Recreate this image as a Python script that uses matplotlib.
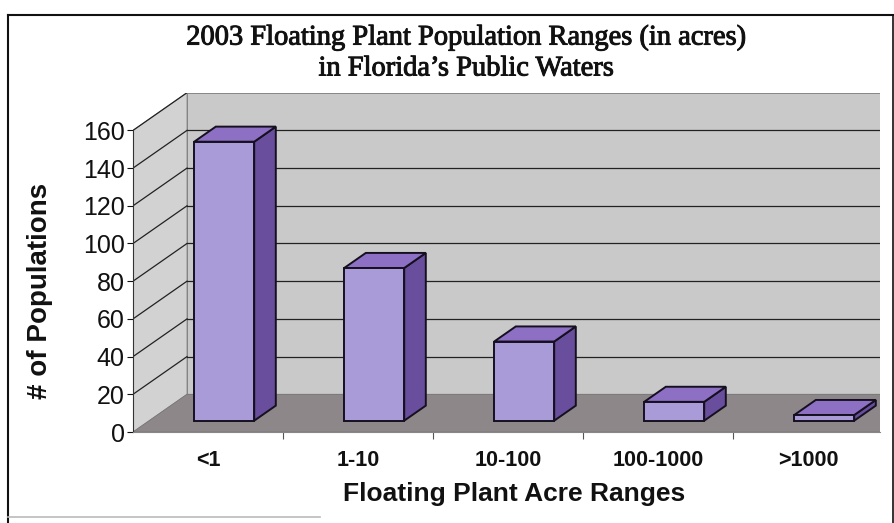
import matplotlib.pyplot as plt
import matplotlib.patheffects as pe
from matplotlib.patches import Polygon
from matplotlib.lines import Line2D

plt.rcParams["font.family"] = ["Liberation Sans", "DejaVu Sans"]

# acre ranges and number of populations in each
categories = ["<1", "1-10", "10-100", "100-1000", ">1000"]
populations = [148, 81, 42, 10, 3]
y_ticks = [0, 20, 40, 60, 80, 100, 120, 140, 160]

# oblique depth offset (category units, value units) and bar layout
DX, DY = 0.36, 20.0
BAR_W = 0.4
D0, D1 = 0.3, 0.7


def proj(x, y, d):
    return (x + DX * d, y + DY * d)


fig = plt.figure(figsize=(8.95, 5.23), dpi=100)
ax = fig.add_axes([133 / 895, 91 / 523, 747 / 895, 339.3 / 523])
ax.set_xlim(0, 4.98)
ax.set_ylim(0, 180)

ymax = y_ticks[-1]
nc = len(categories)

# walls and floor
side = Polygon([proj(0, 0, 0), proj(0, ymax, 0), proj(0, ymax, 1), proj(0, 0, 1)],
               closed=True, facecolor="#d2d2d2", edgecolor="#888888", lw=0.6, zorder=1)
back = Polygon([proj(0, 0, 1), proj(0, ymax, 1), proj(nc, ymax, 1), proj(nc, 0, 1)],
               closed=True, facecolor="#c9c9c9", edgecolor="#777777", lw=0.6, zorder=1)
floor = Polygon([proj(0, 0, 0), proj(nc, 0, 0), proj(nc, 0, 1), proj(0, 0, 1)],
                closed=True, facecolor="#8d8789", edgecolor="#777777", lw=0.6, zorder=1)
for p in (side, back, floor):
    ax.add_patch(p)

# gridlines on the back wall and the side wall
for v in y_ticks[1:-1]:
    x0, y0 = proj(0, v, 1)
    x1, y1 = proj(nc, v, 1)
    ax.plot([x0, x1], [y0, y1], color="#222222", lw=0.9, zorder=2)
for v in y_ticks[1:]:
    xa, ya = proj(0, v, 0)
    xb, yb = proj(0, v, 1)
    ax.plot([xa, xb], [ya, yb], color="#222222", lw=0.9, zorder=2)

# 3D-looking columns
for i, v in enumerate(populations):
    xl = i + 0.5 - BAR_W / 2
    xr = i + 0.5 + BAR_W / 2
    front = [proj(xl, 0, D0), proj(xl, v, D0), proj(xr, v, D0), proj(xr, 0, D0)]
    top = [proj(xl, v, D0), proj(xr, v, D0), proj(xr, v, D1), proj(xl, v, D1)]
    right = [proj(xr, 0, D0), proj(xr, v, D0), proj(xr, v, D1), proj(xr, 0, D1)]
    ax.add_patch(Polygon(right, closed=True, facecolor="#6a4e9e",
                         edgecolor="#151020", lw=1.4, zorder=3))
    ax.add_patch(Polygon(top, closed=True, facecolor="#8d70c4",
                         edgecolor="#151020", lw=1.4, zorder=3))
    ax.add_patch(Polygon(front, closed=True, facecolor="#a99ad8",
                         edgecolor="#151020", lw=1.4, zorder=4))

# axes lines and ticks
for s in ("top", "right"):
    ax.spines[s].set_visible(False)
ax.spines["left"].set_bounds(0, ymax)
ax.spines["left"].set_color("#333333")
ax.spines["bottom"].set_color("#888888")
ax.set_yticks(y_ticks)
ax.tick_params(axis="y", direction="out", length=4, width=0.8, pad=2, labelsize=18,
               colors="#111111")
ax.set_xticks([i + 0.5 for i in range(nc)])
ax.set_xticklabels(categories, fontsize=15.5, fontweight="bold")
ax.set_xticks(range(1, nc), minor=True)
ax.tick_params(axis="x", which="major", length=0, pad=13, colors="#111111")
ax.tick_params(axis="x", which="minor", direction="out", length=5, width=0.8,
               color="#555555")

title_font = dict(family="Liberation Serif", fontsize=20.5, ha="center", va="center",
                  color="#111111",
                  path_effects=[pe.withStroke(linewidth=0.7, foreground="#111111")])
fig.text(466 / 895, 1 - 38 / 523, "2003 Floating Plant Population Ranges (in acres)",
         **title_font)
fig.text(466 / 895, 1 - 69 / 523, "in Florida\u2019s Public Waters", **title_font)
fig.text(40 / 895, 1 - 291 / 523, "# of Populations", rotation=90, fontsize=20,
         fontweight="bold", ha="center", va="center", color="#111111")
fig.text(514 / 895, 1 - 494 / 523, "Floating Plant Acre Ranges", fontsize=19,
         fontweight="bold", ha="center", va="center", color="#111111")

# outer frame
fig.add_artist(Line2D([8 / 895, 8 / 895], [0, 1 - 15 / 523], color="#111111", lw=1.5))
fig.add_artist(Line2D([8 / 895, 893 / 895], [1 - 15 / 523, 1 - 15 / 523],
                      color="#111111", lw=1.5))
fig.add_artist(Line2D([893 / 895, 893 / 895], [1 - 15 / 523, 0], color="#111111", lw=1.2))
fig.add_artist(Line2D([8 / 895, 320 / 895], [1 - 517 / 523, 1 - 517 / 523],
                      color="#bbbbbb", lw=1.2))

fig.savefig("out.png", dpi=100)
